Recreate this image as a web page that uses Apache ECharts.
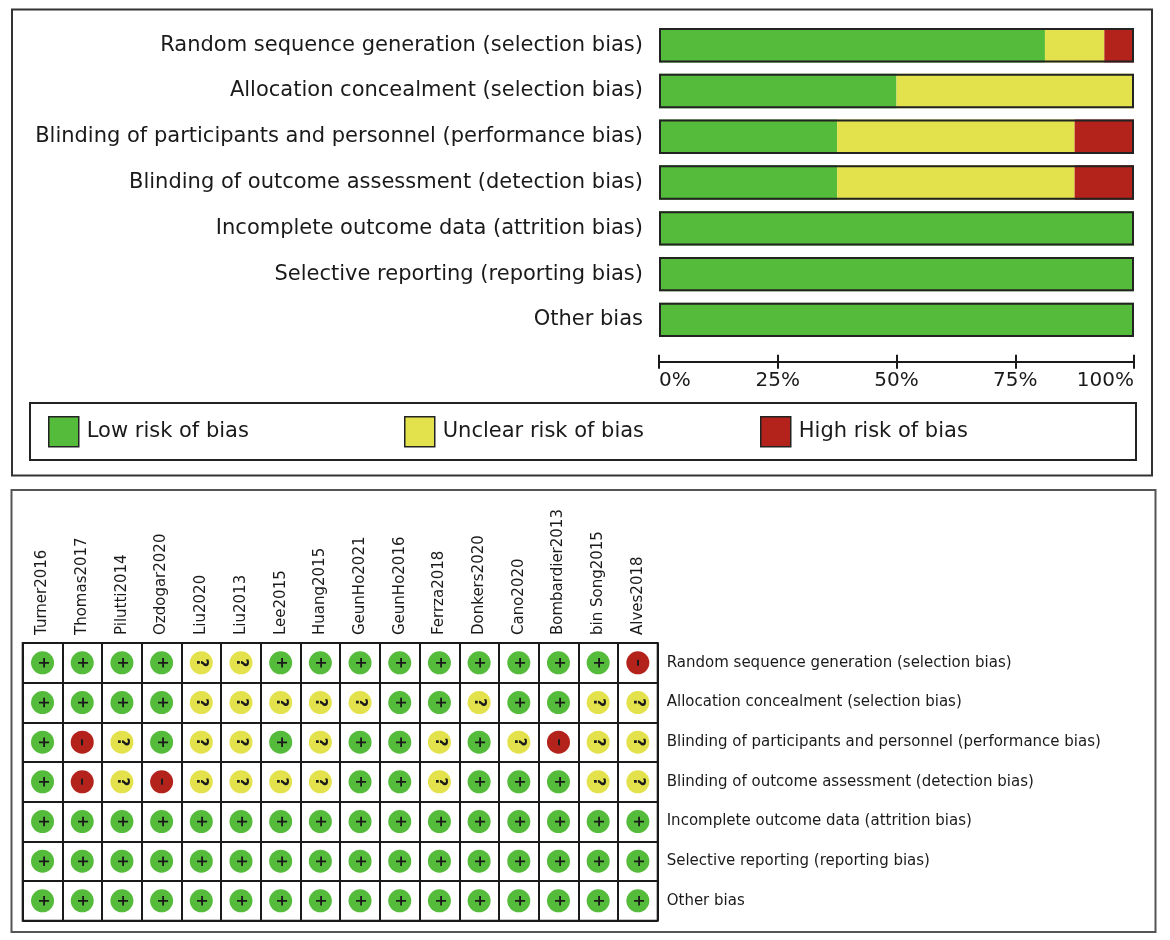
<!DOCTYPE html>
<html>
<head>
<meta charset="utf-8">
<script src="https://cdn.jsdelivr.net/npm/echarts@6/dist/echarts.min.js"></script>
<style>
    html, body {
        margin: 0;
        padding: 0;
        background: #fff;
    }

    #picture {
        width: 1170px;
        height: 940px;
    }
</style>
</head>
<body>
<div id="picture"></div>
<script>
    // domains (same order in both panels)
    var domains = [
        'Random sequence generation (selection bias)',
        'Allocation concealment (selection bias)',
        'Blinding of participants and personnel (performance bias)',
        'Blinding of outcome assessment (detection bias)',
        'Incomplete outcome data (attrition bias)',
        'Selective reporting (reporting bias)',
        'Other bias'
    ];

    // summary percentages per domain
    var lowRisk = [81.25, 50, 37.5, 37.5, 100, 100, 100];
    var unclearRisk = [12.5, 50, 50, 50, 0, 0, 0];
    var highRisk = [6.25, 0, 12.5, 12.5, 0, 0, 0];
    var fullBar = [100, 100, 100, 100, 100, 100, 100];

    var pctTicks = [0, 25, 50, 75, 100];

    // studies
    var studies = ['Turner2016', 'Thomas2017', 'Pilutti2014', 'Ozdogar2020', 'Liu2020', 'Liu2013',
        'Lee2015', 'Huang2015', 'GeunHo2021', 'GeunHo2016', 'Ferrza2018', 'Donkers2020',
        'Cano2020', 'Bombardier2013', 'bin Song2015', 'Alves2018'];

    // judgements per domain: L = low, U = unclear, H = high
    var randomSeq   = ['L','L','L','L','U','U','L','L','L','L','L','L','L','L','L','H'];
    var allocation  = ['L','L','L','L','U','U','U','U','U','L','L','U','L','L','U','U'];
    var blindPart   = ['L','H','U','L','U','U','L','U','L','L','U','L','U','H','U','U'];
    var blindOutc   = ['L','H','U','H','U','U','U','U','L','L','U','L','L','L','U','U'];
    var incomplete  = ['L','L','L','L','L','L','L','L','L','L','L','L','L','L','L','L'];
    var selective   = ['L','L','L','L','L','L','L','L','L','L','L','L','L','L','L','L'];
    var otherBias   = ['L','L','L','L','L','L','L','L','L','L','L','L','L','L','L','L'];

    var judgements = [randomSeq, allocation, blindPart, blindOutc, incomplete, selective, otherBias];

    var GREEN = '#55bb3a',
        YELLOW = '#e3e24c',
        RED = '#b3231c',
        INK = '#1a1a1a',
        FONT = 'DejaVu Sans';

    var riskColor = { L: GREEN, U: YELLOW, H: RED };
    var riskSign = { L: '+', U: '?', H: '\u2013' };

    var cells = [];
    judgements.forEach(function(row, r) {
        row.forEach(function(code, c) {
            cells.push([c, r, code]);
        });
    });

    var myChart = echarts.init(document.getElementById('picture'));

    var legendBase = {
        top: 416,
        padding: 0,
        icon: 'rect',
        itemWidth: 30,
        itemHeight: 30,
        selectedMode: false,
        itemStyle: { borderColor: '#222', borderWidth: 1.5 },
        textStyle: { fontFamily: FONT, fontSize: 21, color: INK, padding: [0, 0, 0, 3] }
    };

    var option = {
        backgroundColor: '#fff',
        animation: false,
        textStyle: { fontFamily: FONT },
        graphic: [{
            type: 'rect',
            shape: { x: 12, y: 9.5, width: 1140, height: 466 },
            style: { fill: 'none', stroke: '#333', lineWidth: 2 }
        }, {
            type: 'rect',
            shape: { x: 30, y: 403, width: 1106, height: 57 },
            style: { fill: 'none', stroke: '#222', lineWidth: 2 }
        }, {
            type: 'rect',
            shape: { x: 11.5, y: 490, width: 1144, height: 442 },
            style: { fill: 'none', stroke: '#555', lineWidth: 2 }
        }],
        legend: [
            Object.assign({ data: ['Low risk of bias'], left: 48 }, legendBase),
            Object.assign({ data: ['Unclear risk of bias'], left: 404 }, legendBase),
            Object.assign({ data: ['High risk of bias'], left: 760 }, legendBase)
        ],
        grid: [{
            left: 659,
            right: 36,
            top: 22.3,
            height: 320.5
        }, {
            left: 22.7,
            top: 643,
            width: 635,
            height: 277.7,
            show: true,
            borderColor: INK,
            borderWidth: 2
        }],
        xAxis: [{
            gridIndex: 0,
            type: 'value',
            position: 'bottom',
            min: pctTicks[0],
            max: pctTicks[pctTicks.length - 1],
            interval: 25,
            offset: 19,
            axisLine: { show: true, lineStyle: { color: INK, width: 2 } },
            axisTick: { show: true, length: 7, lineStyle: { color: INK, width: 2 } },
            axisLabel: {
                formatter: '{value}%',
                fontSize: 20,
                color: INK,
                margin: 9,
                alignMinLabel: 'left',
                alignMaxLabel: 'right'
            },
            splitLine: { show: false }
        }, {
            // upper half of the crossing ticks
            gridIndex: 0,
            type: 'value',
            position: 'bottom',
            min: pctTicks[0],
            max: pctTicks[pctTicks.length - 1],
            interval: 25,
            offset: 19,
            axisLine: { show: false },
            axisTick: { show: true, inside: true, length: 7, lineStyle: { color: INK, width: 2 } },
            axisLabel: { show: false },
            splitLine: { show: false }
        }, {
            gridIndex: 1,
            type: 'category',
            position: 'top',
            data: studies,
            axisLine: { show: false },
            axisTick: { show: false },
            axisLabel: {
                interval: 0,
                rotate: -90,
                fontSize: 15,
                color: INK,
                margin: 8
            },
            splitLine: { show: true, interval: 0, lineStyle: { color: INK, width: 2 } }
        }],
        yAxis: [{
            gridIndex: 0,
            type: 'category',
            inverse: true,
            data: domains,
            axisLine: { show: false },
            axisTick: { show: false },
            axisLabel: { fontSize: 21, color: INK, margin: 16 }
        }, {
            gridIndex: 1,
            type: 'category',
            inverse: true,
            position: 'right',
            data: domains,
            axisLine: { show: false },
            axisTick: { show: false },
            axisLabel: { interval: 0, fontSize: 15, color: INK, margin: 9 },
            splitLine: { show: true, interval: 0, lineStyle: { color: INK, width: 2 } }
        }],
        series: [{
            name: 'Low risk of bias',
            type: 'bar',
            stack: 'risk',
            xAxisIndex: 0,
            yAxisIndex: 0,
            barWidth: 34.4,
            data: lowRisk,
            itemStyle: { color: GREEN }
        }, {
            name: 'Unclear risk of bias',
            type: 'bar',
            stack: 'risk',
            xAxisIndex: 0,
            yAxisIndex: 0,
            barWidth: 34.4,
            data: unclearRisk,
            itemStyle: { color: YELLOW }
        }, {
            name: 'High risk of bias',
            type: 'bar',
            stack: 'risk',
            xAxisIndex: 0,
            yAxisIndex: 0,
            barWidth: 34.4,
            data: highRisk,
            itemStyle: { color: RED }
        }, {
            // outline around each whole bar
            name: 'outline',
            type: 'bar',
            xAxisIndex: 0,
            yAxisIndex: 0,
            barWidth: 34.4,
            barGap: '-100%',
            silent: true,
            z: 5,
            data: fullBar,
            itemStyle: { color: 'rgba(0,0,0,0)', borderColor: '#222', borderWidth: 2 }
        }, {
            name: 'judgement',
            type: 'scatter',
            xAxisIndex: 2,
            yAxisIndex: 1,
            symbol: 'circle',
            symbolSize: 23,
            data: cells,
            itemStyle: {
                opacity: 1,
                color: function(p) {
                    return riskColor[p.data[2]];
                }
            },
            label: {
                show: true,
                position: 'inside',
                rotate: -90,
                fontSize: 15,
                fontWeight: 'bold',
                color: INK,
                formatter: function(p) {
                    return riskSign[p.data[2]];
                }
            }
        }]
    };
    myChart.setOption(option);
</script>
</body>
</html>
